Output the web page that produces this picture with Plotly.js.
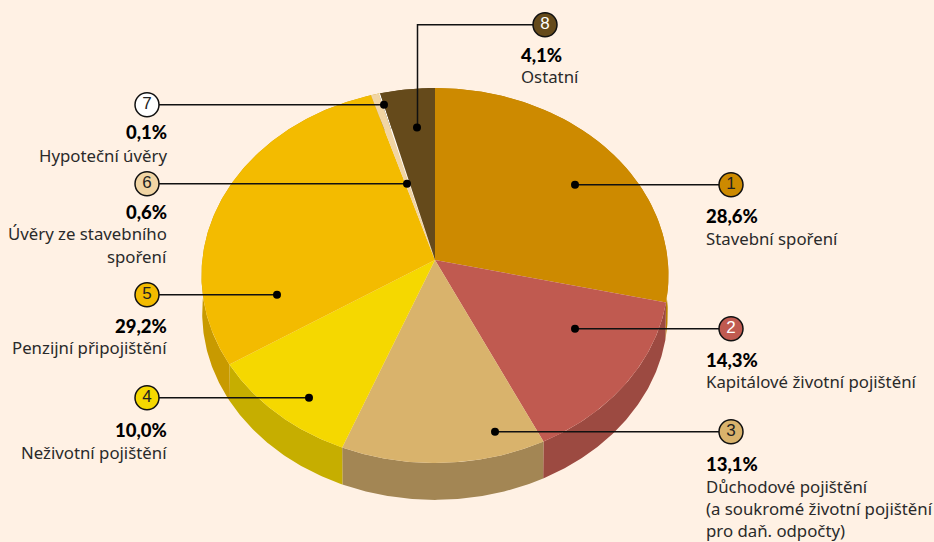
<!DOCTYPE html>
<html><head><meta charset="utf-8">
<script src="https://cdn.plot.ly/plotly-3.0.1.min.js"></script>
<style>html,body{margin:0;padding:0;background:#fff1e4;overflow:hidden}</style>
</head><body><div id="chart" style="width:934px;height:542px"></div>
<script>
// Data
const numbers = ["1","2","3","4","5","6","7","8"];
const shares = [28.6, 14.3, 13.1, 10.0, 29.2, 0.6, 0.1, 4.1];
const shareLabels = ["28,6%","14,3%","13,1%","10,0%","29,2%","0,6%","0,1%","4,1%"];
const categoryLines = [
  ["Stavební spoření"],
  ["Kapitálové životní pojištění"],
  ["Důchodové pojištění","(a soukromé životní pojištění","pro daň. odpočty)"],
  ["Neživotní pojištění"],
  ["Penzijní připojištění"],
  ["Úvěry ze stavebního","spoření"],
  ["Hypoteční úvěry"],
  ["Ostatní"]
];
// Styles
const topColors = ["#cd8a00","#c05a50","#d9b36c","#f5d800","#f3bb00","#f1d5a4","#ffffff","#654a1b"];
const wallColors = ["#b98000","#9c4a41","#a38654","#c6ae00","#c89a00","#c89a00","#c89a00","#654a1b"];
const numberColors = ["#222","#fff","#222","#222","#222","#222","#222","#fff"];
// Projection of the tilted disc into the page
const P = {cx:435, cy:260, b:232.7, a:186.2, k:0.0827, depth:37.5, bottomScale:0.997};
function project(theta, r, depth, scale){
  const u = r*Math.sin(theta), v = r*Math.cos(theta), w = 1 + P.k*v;
  return [P.cx + P.b*scale*u/w, P.cy + depth - P.a*scale*v/w];
}
// Callout layout: badge, anchor dot, label column
const callouts = [
  {badge:[731,184.7], dot:[575,184.7], side:"left",  x:704, pct:216, lines:[238.5]},
  {badge:[731,328.7], dot:[575,328.7], side:"left",  x:704, pct:360, lines:[381.5]},
  {badge:[731,431.7], dot:[495,431.7], side:"left",  x:704, pct:464, lines:[486.5,508.5,530.5]},
  {badge:[147,397.7], dot:[309,397.7], side:"right", x:169, pct:430, lines:[452.5]},
  {badge:[147,294.7], dot:[277,294.7], side:"right", x:169, pct:326, lines:[347.5]},
  {badge:[147,183.7], dot:[407,183.7], side:"right", x:169, pct:212, lines:[233.5,256.5]},
  {badge:[147,104.7], dot:[384,104.7], side:"right", x:169, pct:132, lines:[155.5]},
  {badge:[545,24.7],  dot:[417,127.5], via:[417.5,24.7], side:"left", x:519, pct:55, lines:[76.5]}
];

const traces = [];
const total = shares.reduce((s,v)=>s+v,0);
let cum = 0;
const spans = shares.map(v=>{const a=cum/total*2*Math.PI; cum+=v; return [a,cum/total*2*Math.PI];});
function arc(a0,a1,depth,scale){
  const n = Math.max(2,Math.ceil((a1-a0)/0.01)), pts=[];
  for(let i=0;i<=n;i++) pts.push(project(a0+(a1-a0)*i/n,1,depth,scale));
  return pts;
}
function poly(pts,color){
  traces.push({type:"scatter",mode:"lines",x:pts.map(p=>p[0]),y:pts.map(p=>p[1]),
    fill:"toself",fillcolor:color,line:{width:0,color:color},hoverinfo:"skip",showlegend:false});
}
// Side walls
spans.forEach((s,i)=>{
  const top = arc(s[0],s[1],0,1), bot = arc(s[0],s[1],P.depth,P.bottomScale).reverse();
  poly(top.concat(bot),wallColors[i]);
});
// Top faces
spans.forEach((s,i)=>{
  const pts = [[P.cx,P.cy]].concat(arc(s[0],s[1],0,1)); pts.push([P.cx,P.cy]);
  poly(pts,topColors[i]);
});
// Leader lines
callouts.forEach(c=>{
  const pts = c.via ? [c.badge,c.via,[c.via[0],c.dot[1]]] : [c.badge,c.dot];
  traces.push({type:"scatter",mode:"lines",x:pts.map(p=>p[0]),y:pts.map(p=>p[1]),
    line:{width:1.5,color:"#111"},hoverinfo:"skip",showlegend:false});
});
// Dots
traces.push({type:"scatter",mode:"markers",x:callouts.map(c=>c.dot[0]),y:callouts.map(c=>c.dot[1]),
  marker:{size:8,color:"#000"},hoverinfo:"skip",showlegend:false});
// Badges
traces.push({type:"scatter",mode:"markers+text",x:callouts.map(c=>c.badge[0]),y:callouts.map(c=>c.badge[1]),
  text:numbers,textposition:"middle center",
  textfont:{family:"'Liberation Sans',sans-serif",size:17,color:numberColors},
  marker:{size:24,color:topColors,line:{width:1.5,color:"#111"}},hoverinfo:"skip",showlegend:false});

const annotations = [];
callouts.forEach((c,i)=>{
  annotations.push({x:c.x,y:c.pct,xref:"x",yref:"y",text:shareLabels[i],showarrow:false,
    xanchor:c.side,yanchor:"middle",font:{family:"Lato, sans-serif",size:18.5,weight:900,color:"#000"}});
  c.lines.forEach((y,j)=>annotations.push({x:c.x,y:y,xref:"x",yref:"y",text:categoryLines[i][j],showarrow:false,
    xanchor:c.side,yanchor:"middle",font:{family:"'Noto Sans', sans-serif",size:16.8,color:"#2a2a2a"}}));
});

Plotly.newPlot("chart",traces,{
  width:934,height:542,margin:{l:0,r:0,t:0,b:0,pad:0},
  paper_bgcolor:"#fff1e4",plot_bgcolor:"#fff1e4",showlegend:false,
  xaxis:{range:[0,934],visible:false,fixedrange:true},
  yaxis:{range:[542,0],visible:false,fixedrange:true},
  annotations:annotations
},{displayModeBar:false,staticPlot:true});
</script></body></html>
